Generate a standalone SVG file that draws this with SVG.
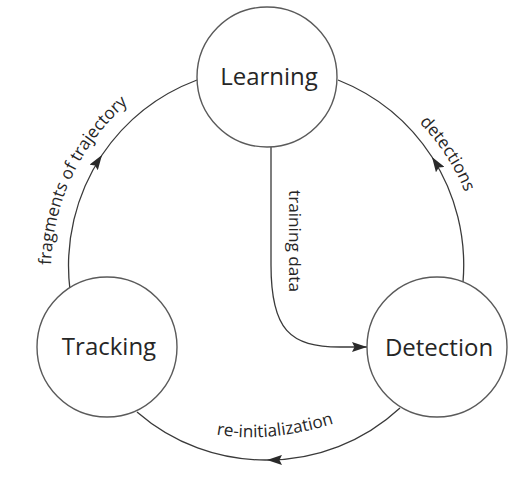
<svg xmlns="http://www.w3.org/2000/svg" width="522" height="482" viewBox="0 0 522 482">
  <style>
    .node { fill: #ffffff; stroke: #5a5a5a; stroke-width: 1.4; }
    .title { font-family: "Open Sans", "Noto Sans", sans-serif; font-size: 24px; fill: #262626; text-anchor: middle; }
    .edge { fill: none; stroke: #3a3a3a; stroke-width: 1.3; }
    .label { font-family: "Open Sans", "Noto Sans", sans-serif; font-size: 17.2px; fill: #262626; text-anchor: middle; }
    .guide { fill: none; stroke: none; }
  </style>
  <defs>
    <marker id="arrow" viewBox="0 0 15 10" refX="15" refY="5" markerWidth="15" markerHeight="10" markerUnits="userSpaceOnUse" orient="auto">
      <path d="M0,0 L15,5 L0,10 L2.5,5 z" fill="#2a2a2a"/>
    </marker>
    <!-- baselines for curved labels -->
    <path id="path-fragments" class="guide" d="M 58.5 327 A 219 219 0 0 1 181 70"/>
    <path id="path-detections" class="guide" d="M 358.7 79.7 A 211 211 0 0 1 479.2 251.7"/>
    <path id="path-reinit" class="guide" d="M 205 432 Q 265 447 345 420"/>
  </defs>

  <g id="connectors">
    <!-- Tracking -> Learning -->
    <path id="edge-fragments" class="edge" marker-mid="url(#arrow)" d="M 70 290 A 200 200 0 0 1 102 155 A 200 200 0 0 1 197 80"/>
    <!-- Detection -> Learning -->
    <path id="edge-detections" class="edge" marker-mid="url(#arrow)" d="M 463 282 A 200 200 0 0 0 432 157 A 200 200 0 0 0 338 80"/>
    <!-- Detection -> Tracking -->
    <path id="edge-reinit" class="edge" marker-mid="url(#arrow)" d="M 400 408 A 195 195 0 0 1 267 460 A 195 195 0 0 1 137 412"/>
    <!-- Learning -> Detection -->
    <path id="edge-training" class="edge" marker-end="url(#arrow)" d="M 271 147 L 271 265 C 271 330 290 347 340 347 L 367 347"/>

    <text class="label"><textPath href="#path-fragments" startOffset="50%">fragments of trajectory</textPath></text>
    <text class="label"><textPath href="#path-detections" startOffset="53%">detections</textPath></text>
    <text class="label"><textPath href="#path-reinit" startOffset="50%">re-initialization</textPath></text>
    <text class="label" transform="translate(289 241) rotate(90)">training data</text>
  </g>

  <g id="node-learning">
    <circle class="node" cx="267" cy="77" r="70"/>
    <text class="title" x="269" y="85">Learning</text>
  </g>
  <g id="node-tracking">
    <circle class="node" cx="107" cy="347" r="70"/>
    <text class="title" x="109" y="355">Tracking</text>
  </g>
  <g id="node-detection">
    <circle class="node" cx="437" cy="347" r="70"/>
    <text class="title" x="439" y="356">Detection</text>
  </g>
</svg>
